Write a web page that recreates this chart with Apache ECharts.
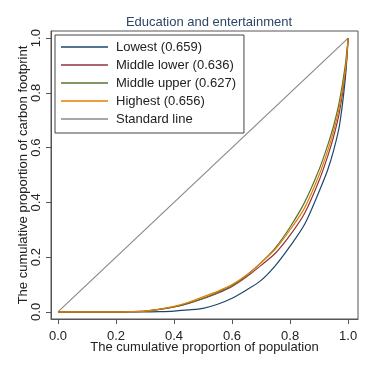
<!DOCTYPE html>
<html><head><meta charset="utf-8">
<script src="https://cdn.jsdelivr.net/npm/echarts@6/dist/echarts.min.js"></script>
<style>html,body{margin:0;padding:0;background:#fff}#c{width:371px;height:371px}</style>
</head><body><div id="c"></div>
<script>
const titleText = "Education and entertainment";
const xName = "The cumulative proportion of population";
const yName = "The cumulative proportion of carbon footprint";
const tickValues = [0, 0.2, 0.4, 0.6, 0.8, 1.0];
const seriesNames = ["Lowest (0.659)", "Middle lower (0.636)", "Middle upper (0.627)", "Highest (0.656)", "Standard line"];
const xPop = [0, 0.1, 0.2, 0.25, 0.3, 0.35, 0.4, 0.45, 0.5, 0.55, 0.6, 0.65, 0.7, 0.75, 0.8, 0.85, 0.9, 0.93, 0.95, 0.97, 0.99, 1.0];
const lowest      = [0, 0, 0, 0, 0, 0.001, 0.003, 0.007, 0.013, 0.028, 0.05, 0.08, 0.115, 0.17, 0.24, 0.32, 0.44, 0.52, 0.59, 0.68, 0.85, 1.0];
const middleLower = [0, 0, 0, 0.001, 0.003, 0.009, 0.018, 0.031, 0.048, 0.068, 0.093, 0.128, 0.17, 0.215, 0.28, 0.36, 0.48, 0.57, 0.64, 0.73, 0.87, 1.0];
const middleUpper = [0, 0, 0, 0.001, 0.003, 0.009, 0.018, 0.032, 0.05, 0.071, 0.096, 0.133, 0.18, 0.235, 0.31, 0.4, 0.52, 0.61, 0.68, 0.77, 0.9, 1.0];
const highest     = [0, 0, 0, 0.001, 0.003, 0.01, 0.02, 0.035, 0.055, 0.075, 0.1, 0.135, 0.18, 0.23, 0.3, 0.38, 0.5, 0.59, 0.66, 0.75, 0.88, 1.0];
const standardX = [0, 1];
const standardY = [0, 1];
const colors = ["#1a476f", "#90353b", "#55752f", "#e37e00", "#8a8a8a"];

const pairs = (xs, ys) => xs.map((x, i) => [x, ys[i]]);
const seriesData = [pairs(xPop, lowest), pairs(xPop, middleLower), pairs(xPop, middleUpper), pairs(xPop, highest), pairs(standardX, standardY)];

const chart = echarts.init(document.getElementById('c'));
const font = 'Liberation Sans, Arial, sans-serif';
chart.setOption({
  animation: false,
  backgroundColor: '#fff',
  title: { text: titleText, left: 204, top: 11, textAlign: 'center',
    textStyle: { fontFamily: font, fontSize: 13, fontWeight: 'normal', color: '#2c4766' } },
  grid: { left: 51, right: 13, top: 31, bottom: 52, show: true, borderColor: '#555', borderWidth: 1, backgroundColor: '#fff' },
  legend: {
    orient: 'vertical', left: 55, top: 35, padding: [5, 8, 7, 6],
    icon: 'rect', itemWidth: 47, itemHeight: 1.5, itemGap: 4,
    backgroundColor: '#fff', borderColor: '#444', borderWidth: 1,
    textStyle: { fontFamily: font, fontSize: 13, lineHeight: 14, color: '#222', padding: [0, 0, 0, 3] },
    data: seriesNames
  },
  xAxis: {
    type: 'value', min: -0.024, max: 1.034,
    name: xName, nameLocation: 'middle', nameGap: 22, nameMoveOverlap: false,
    nameTextStyle: { fontFamily: font, fontSize: 13, color: '#222' },
    axisLine: { show: true, onZero: false, lineStyle: { color: '#555' } },
    axisTick: { show: true, length: 5, customValues: tickValues, lineStyle: { color: '#555' } },
    axisLabel: { customValues: tickValues, margin: 11, fontFamily: font, fontSize: 13, color: '#222', formatter: v => v.toFixed(1) },
    splitLine: { show: false }
  },
  yAxis: {
    type: 'value', min: -0.026, max: 1.026,
    name: yName, nameLocation: 'middle', nameGap: 21, nameMoveOverlap: false,
    nameTextStyle: { fontFamily: font, fontSize: 13, color: '#222' },
    axisLine: { show: true, onZero: false, lineStyle: { color: '#555' } },
    axisTick: { show: true, length: 5, customValues: tickValues, lineStyle: { color: '#555' } },
    axisLabel: { customValues: tickValues, rotate: 90, margin: 8, fontFamily: font, fontSize: 13, color: '#222', formatter: v => v.toFixed(1) },
    splitLine: { show: false }
  },
  series: seriesNames.map((n, i) => ({
    name: n, type: 'line', data: seriesData[i], symbol: 'none', smooth: i < 4 ? 0.3 : false,
    color: colors[i], lineStyle: { width: 1.2, color: colors[i] }, z: i === 4 ? 1 : 2 + i
  }))
});
</script></body></html>
